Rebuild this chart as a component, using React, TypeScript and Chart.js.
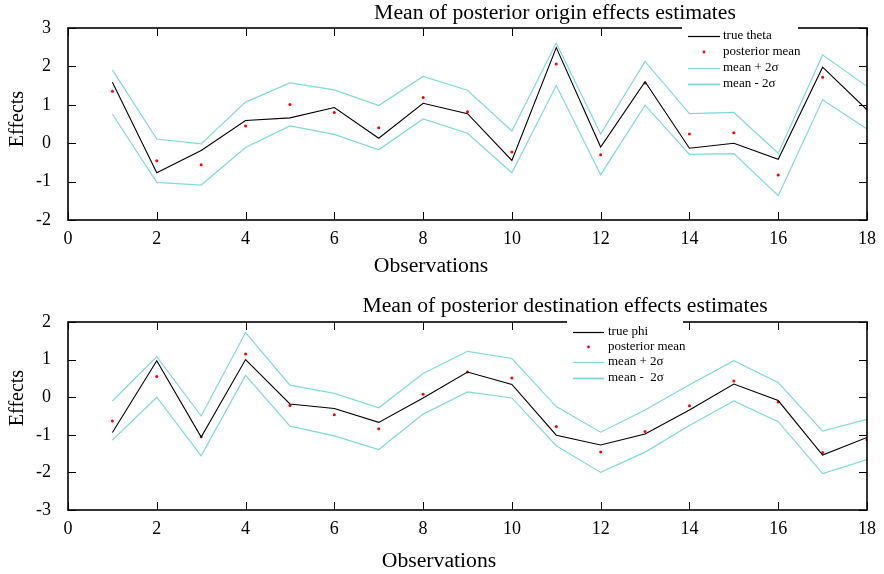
import React, { useEffect, useRef } from "react";
import { Chart, registerables } from "chart.js";

Chart.register(...registerables);

// ---------- data ----------
const observations = [1, 2, 3, 4, 5, 6, 7, 8, 9, 10, 11, 12, 13, 14, 15, 16, 17, 18];

const trueTheta = [1.59, -0.77, -0.19, 0.59, 0.66, 0.93, 0.13, 1.04, 0.77, -0.45, 2.49, -0.1, 1.6, -0.13, 0.0, -0.42, 1.98, 0.87];
const thetaPosteriorMean = [1.35, -0.46, -0.56, 0.45, 1.01, 0.8, 0.4, 1.19, 0.82, -0.23, 2.06, -0.3, 1.57, 0.24, 0.27, -0.83, 1.72, 0.9];
const thetaUpper = [1.91, 0.11, -0.02, 1.07, 1.57, 1.39, 0.98, 1.74, 1.38, 0.32, 2.61, 0.24, 2.13, 0.77, 0.8, -0.26, 2.3, 1.48];
const thetaLower = [0.76, -1.02, -1.09, -0.11, 0.45, 0.23, -0.17, 0.63, 0.26, -0.77, 1.5, -0.82, 0.99, -0.29, -0.27, -1.37, 1.13, 0.37];

const truePhi = [-0.94, 0.97, -1.06, 1.0, -0.18, -0.3, -0.67, -0.02, 0.67, 0.34, -1.01, -1.27, -0.98, -0.34, 0.35, -0.09, -1.54, -1.07];
const phiPosteriorMean = [-0.63, 0.55, -1.05, 1.15, -0.22, -0.47, -0.84, 0.08, 0.67, 0.51, -0.78, -1.46, -0.91, -0.23, 0.43, -0.13, -1.47, -1.13];
const phiUpper = [-0.1, 1.08, -0.5, 1.72, 0.32, 0.1, -0.28, 0.63, 1.22, 1.03, -0.25, -0.93, -0.34, 0.33, 0.97, 0.39, -0.9, -0.59];
const phiLower = [-1.14, 0.0, -1.56, 0.58, -0.77, -1.03, -1.39, -0.45, 0.14, -0.02, -1.29, -2.0, -1.46, -0.75, -0.1, -0.65, -2.03, -1.66];

const xTicks = [0, 2, 4, 6, 8, 10, 12, 14, 16, 18];
const originYTicks = [-2, -1, 0, 1, 2, 3];
const destYTicks = [-3, -2, -1, 0, 1, 2];

// ---------- style ----------
const SERIF = '"Liberation Serif", "DejaVu Serif", serif';
const CYAN = "#80d8d8";
const BLACK = "#000000";
const RED = "#ff0000";
const W = 884;
const H = 287;
const TEXT_STRETCH = 1.085;

type Panel = {
  title: string;
  trueLabel: string;
  minusLabel: string;
  truth: number[];
  post: number[];
  upper: number[];
  lower: number[];
  yTicks: number[];
  titleX: number;
  titleY: number;
  xTitleX: number;
  xTitleY: number;
  yTitleX: number;
  yTitleY: number;
  padTop: number;
  xAxisHeight: number;
  legend: { x: number; y: number; w: number; h: number; lineX0: number; lineX1: number; textX: number; rows: number[] };
};

const panels: Panel[] = [
  {
    title: "Mean of posterior origin effects estimates",
    trueLabel: "true theta",
    minusLabel: "mean - 2\u03c3",
    truth: trueTheta,
    post: thetaPosteriorMean,
    upper: thetaUpper,
    lower: thetaLower,
    yTicks: originYTicks,
    titleX: 555,
    titleY: 14,
    xTitleX: 431,
    xTitleY: 267,
    yTitleX: 18,
    yTitleY: 119,
    padTop: 28,
    xAxisHeight: 67,
    legend: { x: 682, y: 26, w: 116, h: 66, lineX0: 688, lineX1: 720, textX: 723, rows: [36, 52, 68, 84] },
  },
  {
    title: "Mean of posterior destination effects estimates",
    trueLabel: "true phi",
    minusLabel: "mean -  2\u03c3",
    truth: truePhi,
    post: phiPosteriorMean,
    upper: phiUpper,
    lower: phiLower,
    yTicks: destYTicks,
    titleX: 565,
    titleY: 20,
    xTitleX: 439,
    xTitleY: 275,
    yTitleX: 18,
    yTitleY: 111,
    padTop: 35,
    xAxisHeight: 64,
    legend: { x: 567, y: 33, w: 116, h: 66, lineX0: 573, lineX1: 604, textX: 608, rows: [45, 60, 75, 91] },
  },
];

const pts = (ys: number[]) => observations.map((x, i) => ({ x, y: ys[i] }));

function stretchedText(ctx: any, text: string, x: number, y: number) {
  ctx.save();
  ctx.translate(x, y);
  ctx.scale(TEXT_STRETCH, 1);
  ctx.fillText(text, 0, 0);
  ctx.restore();
}

function makeConfig(p: Panel): any {
  const framePlugin = {
    id: "frame",
    afterDraw(chart: any) {
      const ctx = chart.ctx;
      const a = chart.chartArea;
      const xs = chart.scales.x;
      const ys = chart.scales.y;
      ctx.save();
      ctx.strokeStyle = BLACK;
      ctx.lineWidth = 1.6;
      ctx.strokeRect(a.left, a.top, a.right - a.left, a.bottom - a.top);
      const tl = 8;
      ctx.lineWidth = 1;
      ctx.beginPath();
      xTicks.forEach((v) => {
        const px = Math.round(xs.getPixelForValue(v)) + 0.5;
        ctx.moveTo(px, a.bottom);
        ctx.lineTo(px, a.bottom - tl);
        ctx.moveTo(px, a.top);
        ctx.lineTo(px, a.top + tl);
      });
      p.yTicks.forEach((v) => {
        const py = Math.round(ys.getPixelForValue(v)) + 0.5;
        ctx.moveTo(a.left, py);
        ctx.lineTo(a.left + tl, py);
        ctx.moveTo(a.right, py);
        ctx.lineTo(a.right - tl, py);
      });
      ctx.stroke();

      // legend
      const L = p.legend;
      ctx.fillStyle = "#ffffff";
      ctx.fillRect(L.x, L.y, L.w, L.h);
      ctx.font = `13px ${SERIF}`;
      ctx.textBaseline = "middle";
      ctx.textAlign = "left";
      const items = [
        { label: p.trueLabel, kind: "line", color: BLACK, width: 1.2 },
        { label: "posterior mean", kind: "dot", color: RED, width: 1 },
        { label: "mean + 2\u03c3", kind: "line", color: CYAN, width: 1.2 },
        { label: p.minusLabel, kind: "line", color: CYAN, width: 1.8 },
      ];
      items.forEach((it, i) => {
        const y = L.rows[i];
        if (it.kind === "line") {
          ctx.strokeStyle = it.color;
          ctx.lineWidth = it.width;
          ctx.beginPath();
          ctx.moveTo(L.lineX0, y + 0.5);
          ctx.lineTo(L.lineX1, y + 0.5);
          ctx.stroke();
        } else {
          ctx.fillStyle = it.color;
          ctx.beginPath();
          ctx.arc((L.lineX0 + L.lineX1) / 2, y, 1.4, 0, Math.PI * 2);
          ctx.fill();
        }
        ctx.fillStyle = BLACK;
        ctx.fillText(it.label, L.textX, y);
      });

      // titles
      ctx.fillStyle = BLACK;
      ctx.textAlign = "center";
      ctx.textBaseline = "middle";
      ctx.font = `20px ${SERIF}`;
      stretchedText(ctx, p.title, p.titleX, p.titleY);
      stretchedText(ctx, "Observations", p.xTitleX, p.xTitleY);
      ctx.save();
      ctx.translate(p.yTitleX, p.yTitleY);
      ctx.rotate(-Math.PI / 2);
      ctx.fillText("Effects", 0, 0);
      ctx.restore();
      ctx.restore();
    },
  };

  return {
    type: "scatter",
    data: {
      datasets: [
        { label: p.trueLabel, data: pts(p.truth), showLine: true, borderColor: BLACK, borderWidth: 1.1, pointRadius: 0, tension: 0 },
        { label: "posterior mean", data: pts(p.post), showLine: false, backgroundColor: RED, borderWidth: 0, pointRadius: 1.5 },
        { label: "mean + 2\u03c3", data: pts(p.upper), showLine: true, borderColor: CYAN, borderWidth: 1.2, pointRadius: 0, tension: 0 },
        { label: p.minusLabel, data: pts(p.lower), showLine: true, borderColor: CYAN, borderWidth: 1.2, pointRadius: 0, tension: 0 },
      ],
    },
    options: {
      responsive: false,
      animation: false,
      devicePixelRatio: 1,
      layout: { padding: { top: p.padTop, right: 12, left: 0, bottom: 0 } },
      plugins: { legend: { display: false }, tooltip: { enabled: false }, title: { display: false } },
      scales: {
        x: {
          type: "linear",
          min: 0,
          max: 18,
          afterBuildTicks: (s: any) => {
            s.ticks = xTicks.map((v) => ({ value: v }));
          },
          afterFit: (s: any) => {
            s.height = p.xAxisHeight;
          },
          grid: { display: false, drawTicks: false },
          border: { display: false },
          ticks: { color: BLACK, font: { family: SERIF, size: 18 }, padding: 8, maxRotation: 0, autoSkip: false },
        },
        y: {
          type: "linear",
          min: p.yTicks[0],
          max: p.yTicks[p.yTicks.length - 1],
          afterBuildTicks: (s: any) => {
            s.ticks = p.yTicks.map((v) => ({ value: v }));
          },
          afterFit: (s: any) => {
            s.width = 68;
          },
          grid: { display: false, drawTicks: false },
          border: { display: false },
          ticks: { color: BLACK, font: { family: SERIF, size: 18 }, padding: 17, autoSkip: false },
        },
      },
    },
    plugins: [framePlugin],
  };
}

function PanelChart({ panel, top }: { panel: Panel; top: number }) {
  const ref = useRef<HTMLCanvasElement | null>(null);
  useEffect(() => {
    if (!ref.current) return;
    const chart = new Chart(ref.current, makeConfig(panel));
    return () => chart.destroy();
  }, [panel]);
  return (
    <canvas
      ref={ref}
      width={W}
      height={H}
      style={{ position: "absolute", left: 0, top, width: W, height: H, display: "block" }}
    />
  );
}

export default function App() {
  return (
    <div style={{ position: "absolute", left: 0, top: 0, width: W, height: 574, background: "#ffffff" }}>
      <PanelChart panel={panels[0]} top={0} />
      <PanelChart panel={panels[1]} top={287} />
    </div>
  );
}
